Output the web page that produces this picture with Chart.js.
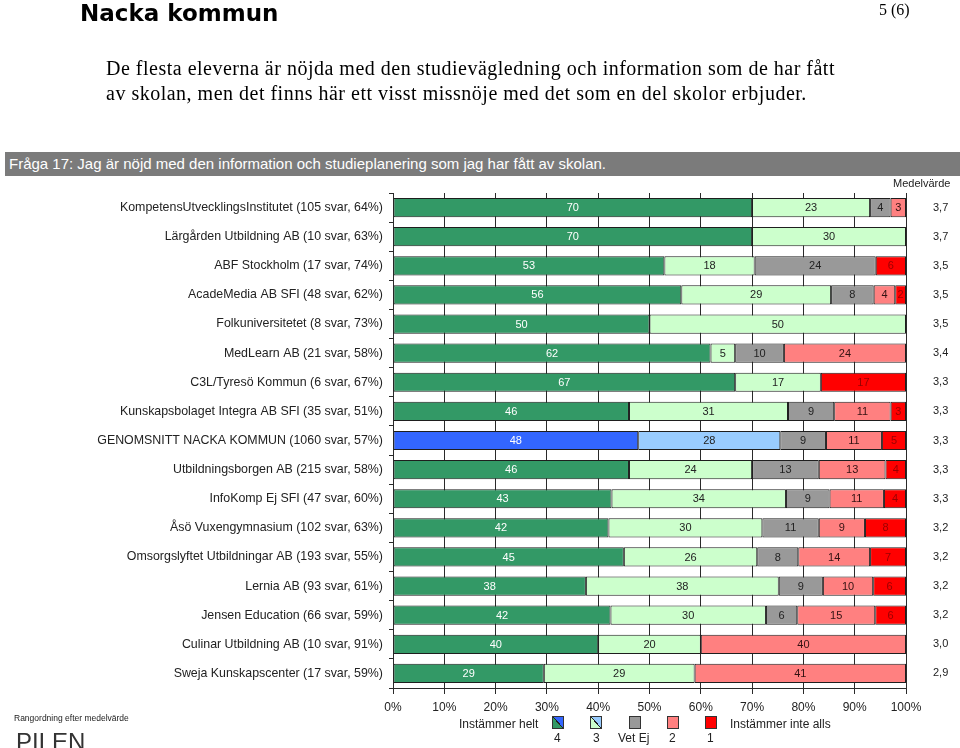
<!DOCTYPE html>
<html>
<head>
<meta charset="utf-8">
<script src="https://cdn.jsdelivr.net/npm/chart.js@4.4.1/dist/chart.umd.min.js"></script>
<style>
  html, body { margin:0; padding:0; background:#fff; }
  body { width:960px; height:748px; position:relative; overflow:hidden; font-family:"Liberation Sans", Arial, sans-serif; }
  #c { position:absolute; left:0; top:0; }
  .abs { position:absolute; white-space:nowrap; }
  #head { left:80px; top:0px; font-family:"DejaVu Sans", sans-serif; font-weight:bold; font-size:23px; color:#000; }
  #page { left:879px; top:1px; font-family:"Liberation Serif", "Times New Roman", serif; font-size:16px; color:#000; }
  #para { left:106px; top:56px; font-family:"Liberation Serif", "Times New Roman", serif; font-size:20px; letter-spacing:0.5px; line-height:25px; color:#000; }
  #qbar { left:5px; top:152px; width:955px; height:24px; background:#7b7b7b; color:#fff; font-size:15px; line-height:24px; padding-left:4px; box-sizing:border-box; }
  #medel { left:893px; top:177px; font-size:11px; color:#222; }
  #rang { left:14px; top:713px; font-size:8.5px; color:#222; }
  #pilen { left:16px; top:730px; font-size:24px; line-height:23px; color:#333; font-weight:normal; }
  .lg { font-size:12px; color:#222; }
  .sq { position:absolute; width:10px; height:11px; border:1px solid #333; }
</style>
</head>
<body>
<canvas id="c" width="960" height="748"></canvas>
<div class="abs" id="head">Nacka kommun</div>
<div class="abs" id="page">5 (6)</div>
<div class="abs" id="para">De flesta eleverna är nöjda med den studievägledning och information som de har fått<br>av skolan, men det finns här ett visst missnöje med det som en del skolor erbjuder.</div>
<div class="abs" id="qbar">Fråga 17: Jag är nöjd med den information och studieplanering som jag har fått av skolan.</div>
<div class="abs" id="medel">Medelvärde</div>
<div class="abs" id="rang">Rangordning efter medelvärde</div>
<div class="abs" id="pilen">PILEN</div>

<div class="abs lg" style="left:459px; top:717px;">Instämmer helt</div>
<div class="sq" style="left:552px; top:716px; background:linear-gradient(to top right, #339966 47%, #222 47%, #222 53%, #3366ff 53%);"></div>
<div class="sq" style="left:590px; top:716px; background:linear-gradient(to top right, #ccffcc 47%, #222 47%, #222 53%, #99ccff 53%);"></div>
<div class="sq" style="left:629px; top:716px; background:#999999;"></div>
<div class="sq" style="left:667px; top:716px; background:#ff8080;"></div>
<div class="sq" style="left:705px; top:716px; background:#ff0000;"></div>
<div class="abs lg" style="left:730px; top:717px;">Instämmer inte alls</div>
<div class="abs lg" style="left:554px; top:731px;">4</div>
<div class="abs lg" style="left:593px; top:731px;">3</div>
<div class="abs lg" style="left:618px; top:731px;">Vet Ej</div>
<div class="abs lg" style="left:669px; top:731px;">2</div>
<div class="abs lg" style="left:707px; top:731px;">1</div>

<script>
const categories = [
  'KompetensUtvecklingsInstitutet (105 svar, 64%)',
  'Lärgården Utbildning AB (10 svar, 63%)',
  'ABF Stockholm (17 svar, 74%)',
  'AcadeMedia AB SFI (48 svar, 62%)',
  'Folkuniversitetet (8 svar, 73%)',
  'MedLearn AB (21 svar, 58%)',
  'C3L/Tyresö Kommun (6 svar, 67%)',
  'Kunskapsbolaget Integra AB SFI (35 svar, 51%)',
  'GENOMSNITT NACKA KOMMUN (1060 svar, 57%)',
  'Utbildningsborgen AB (215 svar, 58%)',
  'InfoKomp Ej SFI (47 svar, 60%)',
  'Åsö Vuxengymnasium (102 svar, 63%)',
  'Omsorgslyftet Utbildningar AB (193 svar, 55%)',
  'Lernia AB (93 svar, 61%)',
  'Jensen Education (66 svar, 59%)',
  'Culinar Utbildning AB (10 svar, 91%)',
  'Sweja Kunskapscenter (17 svar, 59%)'
];
const seriesNames = ['4', '3', 'Vet Ej', '2', '1'];
// Percent shares (labels in the bars are these values rounded)
const s4   = [70, 70, 52.9, 56.2, 50, 61.9, 66.7, 46, 47.8, 46, 42.6, 42, 45, 37.6, 42.4, 40, 29.4];
const s3   = [23, 30, 17.6, 29.2, 50,  4.8, 16.7, 31, 27.7, 24, 34.0, 30, 26, 37.6, 30.3, 20, 29.4];
const sVet = [ 4,  0, 23.6,  8.3,  0,  9.5,    0,  9,  8.9, 13,  8.5, 11,  8,  8.6,  6.1,  0,    0];
const s2   = [ 3,  0,    0,  4.2,  0, 23.8,    0, 11, 10.9, 13, 10.6,  9, 14,  9.8, 15.2, 40, 41.2];
const s1   = [ 0,  0,  5.9,  2.1,  0,    0, 16.6,  3,  4.7,  4,  4.3,  8,  7,  6.4,  6.0,  0,    0];
const means = ['3,7','3,7','3,5','3,5','3,5','3,4','3,3','3,3','3,3','3,3','3,3','3,2','3,2','3,2','3,2','3,0','2,9'];
const xTicks = [0, 10, 20, 30, 40, 50, 60, 70, 80, 90, 100];
const highlightCategory = 'GENOMSNITT NACKA KOMMUN (1060 svar, 57%)';

const baseColors = ['#339966', '#ccffcc', '#999999', '#ff8080', '#ff0000'];
const highlightColors = ['#3366ff', '#99ccff', '#999999', '#ff8080', '#ff0000'];
const textColors = ['#ffffff', '#222222', '#222222', '#331111', '#990000'];

const allSeries = [s4, s3, sVet, s2, s1];
const datasets = allSeries.map((arr, di) => ({
  label: seriesNames[di],
  data: arr,
  backgroundColor: ctx => categories[ctx.dataIndex] === highlightCategory ? highlightColors[di] : baseColors[di],
  borderColor: '#1e1e1e',
  borderWidth: ctx => (ctx.raw ? 1 : 0),
  borderSkipped: false,
  barPercentage: 0.66,
  categoryPercentage: 1.0
}));

const barLabels = {
  id: 'barLabels',
  afterDatasetsDraw(chart) {
    const ctx = chart.ctx;
    const right = chart.chartArea.right;
    ctx.save();
    ctx.font = '11px "Liberation Sans", Arial, sans-serif';
    ctx.textAlign = 'center';
    ctx.textBaseline = 'middle';
    chart.data.datasets.forEach((ds, di) => {
      const meta = chart.getDatasetMeta(di);
      meta.data.forEach((el, i) => {
        const v = ds.data[i];
        if (!v) return;
        const x = (Math.min(el.x, right) + el.base) / 2;
        ctx.fillStyle = textColors[di];
        ctx.fillText(String(Math.round(v)), x, el.y + 0.5);
      });
    });
    ctx.restore();
  }
};

Chart.defaults.font.family = '"Liberation Sans", Arial, sans-serif';
Chart.defaults.color = '#222';

new Chart(document.getElementById('c'), {
  type: 'bar',
  data: { labels: categories, datasets },
  options: {
    indexAxis: 'y',
    responsive: false,
    animation: false,
    layout: { padding: { top: 193, left: 0, right: 0, bottom: 0 } },
    plugins: { legend: { display: false }, tooltip: { enabled: false }, title: { display: false } },
    scales: {
      x: {
        stacked: true,
        min: 0, max: 100,
        afterBuildTicks: s => { s.ticks = xTicks.map(v => ({ value: v })); },
        ticks: { callback: v => v + '%', color: '#222', font: { size: 12 }, padding: 6, maxRotation: 0 },
        grid: { color: '#2a2a2a', lineWidth: 1, tickLength: 6 },
        border: { display: true, color: '#2a2a2a' },
        afterFit: s => { s.height = 60; }
      },
      y: {
        stacked: true,
        position: 'left',
        ticks: { color: '#222', font: { size: 12.4 }, padding: 6, autoSkip: false },
        grid: { drawOnChartArea: false, tickLength: 4, color: '#2a2a2a', offset: true },
        border: { display: true, color: '#2a2a2a' },
        afterFit: s => { s.width = 393; }
      },
      y2: {
        type: 'category',
        position: 'right',
        labels: means,
        offset: true,
        ticks: { color: '#222', font: { size: 11 }, padding: 19, autoSkip: false },
        grid: { display: false },
        border: { display: false },
        afterFit: s => { s.width = 54; }
      }
    }
  },
  plugins: [barLabels]
});
</script>
</body>
</html>
